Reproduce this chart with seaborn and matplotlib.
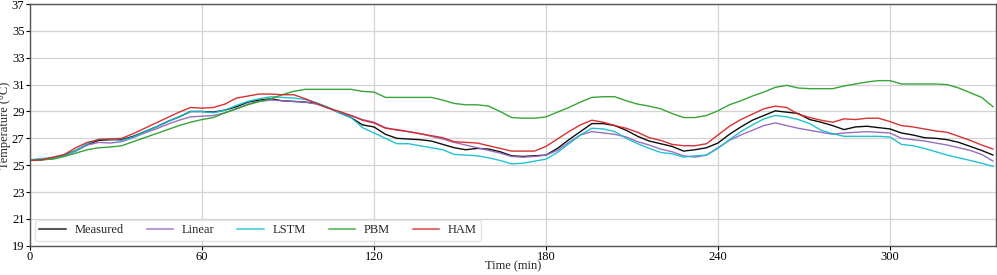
import numpy as np
import pandas as pd
import seaborn as sns
from matplotlib import pyplot as plt

# time axis (min), sampled every 4 min
time_min = list(range(0, 337, 4))

measured = [25.4, 25.4, 25.55, 25.75, 26.1, 26.55, 26.85, 26.9, 26.9, 27.15,
            27.5, 27.85, 28.25, 28.6, 29.0, 29.0, 28.95, 29.1, 29.35, 29.7,
            29.85, 29.95, 29.8, 29.75, 29.7, 29.6, 29.3, 28.9, 28.55, 28.0,
            27.85, 27.3, 27.0, 26.95, 26.9, 26.8, 26.55, 26.3, 26.15, 26.25,
            26.2, 26.0, 25.7, 25.65, 25.7, 25.75, 26.25, 26.9, 27.5, 28.1,
            28.1, 27.95, 27.6, 27.15, 26.8, 26.6, 26.4, 26.05, 26.15, 26.3,
            26.65, 27.3, 27.85, 28.35, 28.7, 29.05, 28.95, 28.85, 28.4, 28.2,
            27.95, 27.65, 27.85, 27.9, 27.8, 27.7, 27.4, 27.25, 27.05, 27.0,
            26.9, 26.7, 26.4, 26.1, 25.75]

linear = [25.4, 25.4, 25.5, 25.7, 26.05, 26.5, 26.7, 26.65, 26.75, 27.05,
          27.4, 27.7, 28.05, 28.35, 28.6, 28.65, 28.7, 28.9, 29.2, 29.55,
          29.75, 29.85, 29.8, 29.75, 29.7, 29.55, 29.25, 28.95, 28.7, 28.4,
          28.2, 27.8, 27.6, 27.5, 27.35, 27.15, 26.95, 26.7, 26.5, 26.3,
          26.1, 25.9, 25.65, 25.6, 25.65, 25.75, 26.1, 26.7, 27.25, 27.5,
          27.4, 27.3, 27.1, 26.75, 26.5, 26.2, 26.0, 25.7, 25.6, 25.75,
          26.3, 26.85, 27.25, 27.6, 27.95, 28.15, 27.95, 27.75, 27.6, 27.45,
          27.3, 27.4, 27.45, 27.5, 27.45, 27.4, 27.0, 26.9, 26.8, 26.65,
          26.5, 26.3, 26.1, 25.8, 25.3]

lstm = [25.4, 25.5, 25.55, 25.7, 26.1, 26.6, 26.95, 26.95, 26.85, 27.1,
        27.5, 27.85, 28.25, 28.6, 29.0, 29.0, 28.9, 29.1, 29.45, 29.75,
        29.95, 30.1, 30.05, 30.0, 29.9, 29.65, 29.3, 28.9, 28.55, 27.8,
        27.4, 27.0, 26.6, 26.6, 26.45, 26.3, 26.15, 25.8, 25.75, 25.7,
        25.55, 25.35, 25.1, 25.15, 25.3, 25.45, 25.95, 26.6, 27.25, 27.75,
        27.7, 27.5, 27.0, 26.6, 26.25, 25.95, 25.85, 25.6, 25.7, 25.75,
        26.25, 26.9, 27.5, 28.0, 28.45, 28.7, 28.6, 28.4, 28.1, 27.6,
        27.35, 27.15, 27.15, 27.15, 27.15, 27.1, 26.55, 26.45, 26.25, 26.0,
        25.75, 25.55, 25.35, 25.15, 24.9]

pbm = [25.35, 25.4, 25.45, 25.65, 25.9, 26.15, 26.3, 26.35, 26.45, 26.75,
       27.05, 27.35, 27.65, 27.95, 28.2, 28.4, 28.55, 28.9, 29.2, 29.5,
       29.75, 29.95, 30.25, 30.5, 30.65, 30.65, 30.65, 30.65, 30.65, 30.5,
       30.45, 30.05, 30.05, 30.05, 30.05, 30.05, 29.85, 29.6, 29.5, 29.5,
       29.4, 29.0, 28.55, 28.5, 28.5, 28.6, 28.95, 29.3, 29.7, 30.05,
       30.1, 30.1, 29.8, 29.55, 29.4, 29.2, 28.85, 28.55, 28.55, 28.7,
       29.05, 29.5, 29.8, 30.15, 30.45, 30.8, 30.95, 30.75, 30.7, 30.7,
       30.7, 30.9, 31.05, 31.2, 31.3, 31.3, 31.05, 31.05, 31.05, 31.05,
       31.0, 30.75, 30.4, 30.05, 29.35]

ham = [25.35, 25.4, 25.6, 25.8, 26.3, 26.7, 26.9, 26.95, 27.0, 27.35,
       27.75, 28.15, 28.55, 28.95, 29.3, 29.25, 29.3, 29.55, 30.0, 30.15,
       30.3, 30.3, 30.25, 30.25, 29.95, 29.6, 29.25, 29.0, 28.7, 28.35,
       28.15, 27.75, 27.65, 27.5, 27.35, 27.2, 27.05, 26.75, 26.7, 26.65,
       26.45, 26.25, 26.05, 26.05, 26.05, 26.4, 26.95, 27.5, 28.0, 28.35,
       28.2, 27.95, 27.75, 27.45, 27.05, 26.85, 26.55, 26.45, 26.45, 26.6,
       27.25, 27.9, 28.4, 28.8, 29.2, 29.4, 29.3, 28.8, 28.55, 28.35,
       28.2, 28.45, 28.4, 28.5, 28.5, 28.25, 27.95, 27.85, 27.7, 27.55,
       27.45, 27.15, 26.85, 26.5, 26.2]

model_names = ['Measured', 'Linear', 'LSTM', 'PBM', 'HAM']
model_colors = ['black', '#9467bd', '#17becf', '#2ca02c', '#d62728']
x_ticks = [0, 60, 120, 180, 240, 300]
y_ticks = [19, 21, 23, 25, 27, 29, 31, 33, 35, 37]

# long form table for seaborn
series = [measured, linear, lstm, pbm, ham]
df = pd.concat([pd.DataFrame({'Time (min)': time_min, 'Temperature (°C)': s, 'model': n})
                for n, s in zip(model_names, series)], ignore_index=True)

sns.set_theme(style='whitegrid')
plt.rcParams['font.family'] = ['Liberation Serif', 'DejaVu Serif']
plt.rcParams['font.size'] = 9

fig = plt.figure(figsize=(9.97, 2.75), dpi=100)
ax = fig.add_axes([0.0301, 0.1065, 0.9689, 0.8785])

sns.lineplot(data=df, x='Time (min)', y='Temperature (°C)', hue='model',
             hue_order=model_names, palette=dict(zip(model_names, model_colors)),
             linewidth=1.0, alpha=0.95, ax=ax)

ax.set_xlim(0, 337)
ax.set_ylim(19, 37)
ax.set_xticks(x_ticks)
ax.set_yticks(y_ticks)
ax.tick_params(axis='both', labelsize=9, length=3, width=0.8, pad=1.0,
               left=True, bottom=True, colors='black')
ax.set_xlabel('Time (min)', fontsize=9)
ax.set_ylabel('Temperature (°C)', fontsize=9)
ax.xaxis.set_label_coords(0.5, -0.062)
ax.yaxis.set_label_coords(-0.0195, 0.5)
ax.grid(True, color='#d4d4d4', linewidth=0.9)
for sp in ax.spines.values():
    sp.set_color('#555555')
    sp.set_linewidth(1.0)

leg = ax.legend(loc='lower left', ncol=5, fontsize=9, frameon=True,
                borderaxespad=0.4, columnspacing=1.85, handlelength=2.1,
                handletextpad=0.7, borderpad=0.35)
leg.get_frame().set_edgecolor('#dddddd')
for h in leg.get_lines():
    h.set_alpha(0.65)
    h.set_linewidth(1.5)

fig.savefig('out.png', dpi=100)
